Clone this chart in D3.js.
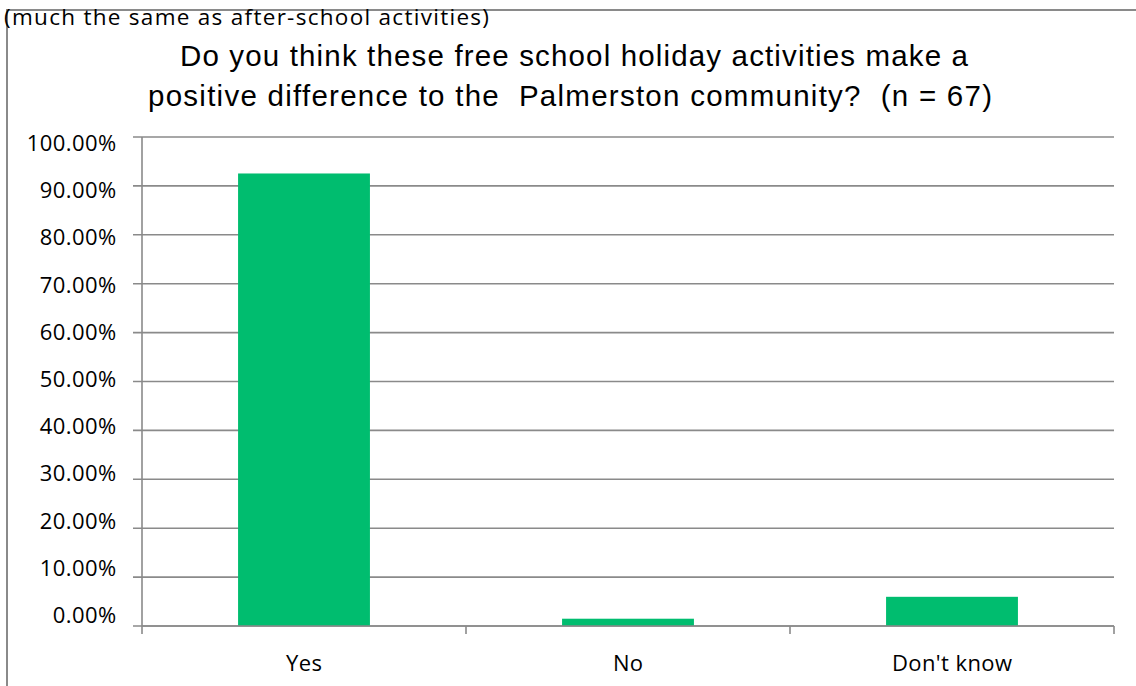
<!DOCTYPE html>
<html>
<head>
<meta charset="utf-8">
<script src="https://cdn.jsdelivr.net/npm/d3@7"></script>
<style>
  html, body { margin: 0; padding: 0; background: #fff; }
  svg { display: block; }
  text { white-space: pre; }
</style>
</head>
<body>
<svg id="chart" width="1136" height="686"></svg>
<script>
// Survey responses (n = 67), share of respondents
const categories = ["Yes", "No", "Don't know"];
const shares = [0.9254, 0.0149, 0.0597];
const yTicks = [0, 0.1, 0.2, 0.3, 0.4, 0.5, 0.6, 0.7, 0.8, 0.9, 1.0];
const titleLines = [
  "Do you think these free school holiday activities make a",
  "positive difference to the  Palmerston community?  (n = 67)"
];
const caption = "(much the same as after-school activities)";

const svg = d3.select("#chart");
const labelFont = "'Open Sans', Lato, sans-serif";
const gridColor = "#8a8a8a";

const plot = { left: 142, right: 1114, top: 137, bottom: 626 };

// Outer frame (top and left edges)
svg.append("path")
  .attr("d", `M7,686 V10 H1136`)
  .attr("fill", "none")
  .attr("stroke", gridColor)
  .attr("stroke-width", 2);

// Caption sitting over the frame
svg.append("text")
  .attr("x", 4).attr("y", 24.5)
  .attr("font-family", labelFont)
  .attr("font-size", 22.5)
  .attr("textLength", 485)
  .attr("lengthAdjust", "spacing")
  .attr("fill", "#000")
  .text(caption);

// Title, two centred lines
const titleWidths = [788, 844];
svg.append("g").selectAll("text")
  .data(titleLines)
  .join("text")
  .attr("x", (d, i) => i === 0 ? 574 : 570)
  .attr("y", (d, i) => 66 + i * 40)
  .attr("text-anchor", "middle")
  .attr("font-family", "'Liberation Sans', Arial, sans-serif")
  .attr("font-size", 29.5)
  .attr("textLength", (d, i) => titleWidths[i])
  .attr("lengthAdjust", "spacing")
  .attr("fill", "#000")
  .text(d => d);

const x = d3.scaleBand().domain(categories).range([plot.left, plot.right]).padding(0);
const y = d3.scaleLinear().domain([0, 1]).range([plot.bottom, plot.top]);
// tick labels sit on a slightly tighter vertical run than the gridlines
const yLabel = d3.scaleLinear().domain([0, 1]).range([615.5, 143.5]);
const barFrac = 0.407;

// Gridlines with left tick stubs
svg.append("g").selectAll("line")
  .data(yTicks)
  .join("line")
  .attr("x1", plot.left - 9).attr("x2", plot.right)
  .attr("y1", d => y(d)).attr("y2", d => y(d))
  .attr("stroke", gridColor).attr("stroke-width", 1.6);

// Y tick labels
svg.append("g").selectAll("text")
  .data(yTicks)
  .join("text")
  .attr("x", 116.5)
  .attr("y", d => yLabel(d) + 7.5)
  .attr("text-anchor", "end")
  .attr("font-family", labelFont)
  .attr("font-size", 22)
  .attr("letter-spacing", 0.4)
  .attr("fill", "#000")
  .text(d => d3.format(".2%")(d));

// Bars
svg.append("g").selectAll("rect")
  .data(categories.map((c, i) => ({ c, v: shares[i] })))
  .join("rect")
  .attr("x", d => x(d.c) + x.bandwidth() * (1 - barFrac) / 2)
  .attr("width", x.bandwidth() * barFrac)
  .attr("y", d => y(d.v))
  .attr("height", d => y(0) - y(d.v))
  .attr("fill", "#00bd6f");

// Y axis line
svg.append("line")
  .attr("x1", plot.left).attr("x2", plot.left)
  .attr("y1", plot.top).attr("y2", plot.bottom + 8)
  .attr("stroke", gridColor).attr("stroke-width", 1.6);

// X axis line and category boundary ticks
svg.append("line")
  .attr("x1", plot.left).attr("x2", plot.right)
  .attr("y1", plot.bottom).attr("y2", plot.bottom)
  .attr("stroke", gridColor).attr("stroke-width", 1.6);
const bounds = categories.map(c => x(c) + x.bandwidth());
svg.append("g").selectAll("line")
  .data(bounds)
  .join("line")
  .attr("x1", d => d).attr("x2", d => d)
  .attr("y1", plot.bottom).attr("y2", plot.bottom + 8)
  .attr("stroke", gridColor).attr("stroke-width", 1.6);

// Category labels
svg.append("g").selectAll("text")
  .data(categories)
  .join("text")
  .attr("x", d => x(d) + x.bandwidth() / 2 + 0.2)
  .attr("y", 671)
  .attr("text-anchor", "middle")
  .attr("font-family", labelFont)
  .attr("font-size", 22)
  .attr("letter-spacing", 0.4)
  .attr("fill", "#000")
  .text(d => d);
</script>
</body>
</html>
